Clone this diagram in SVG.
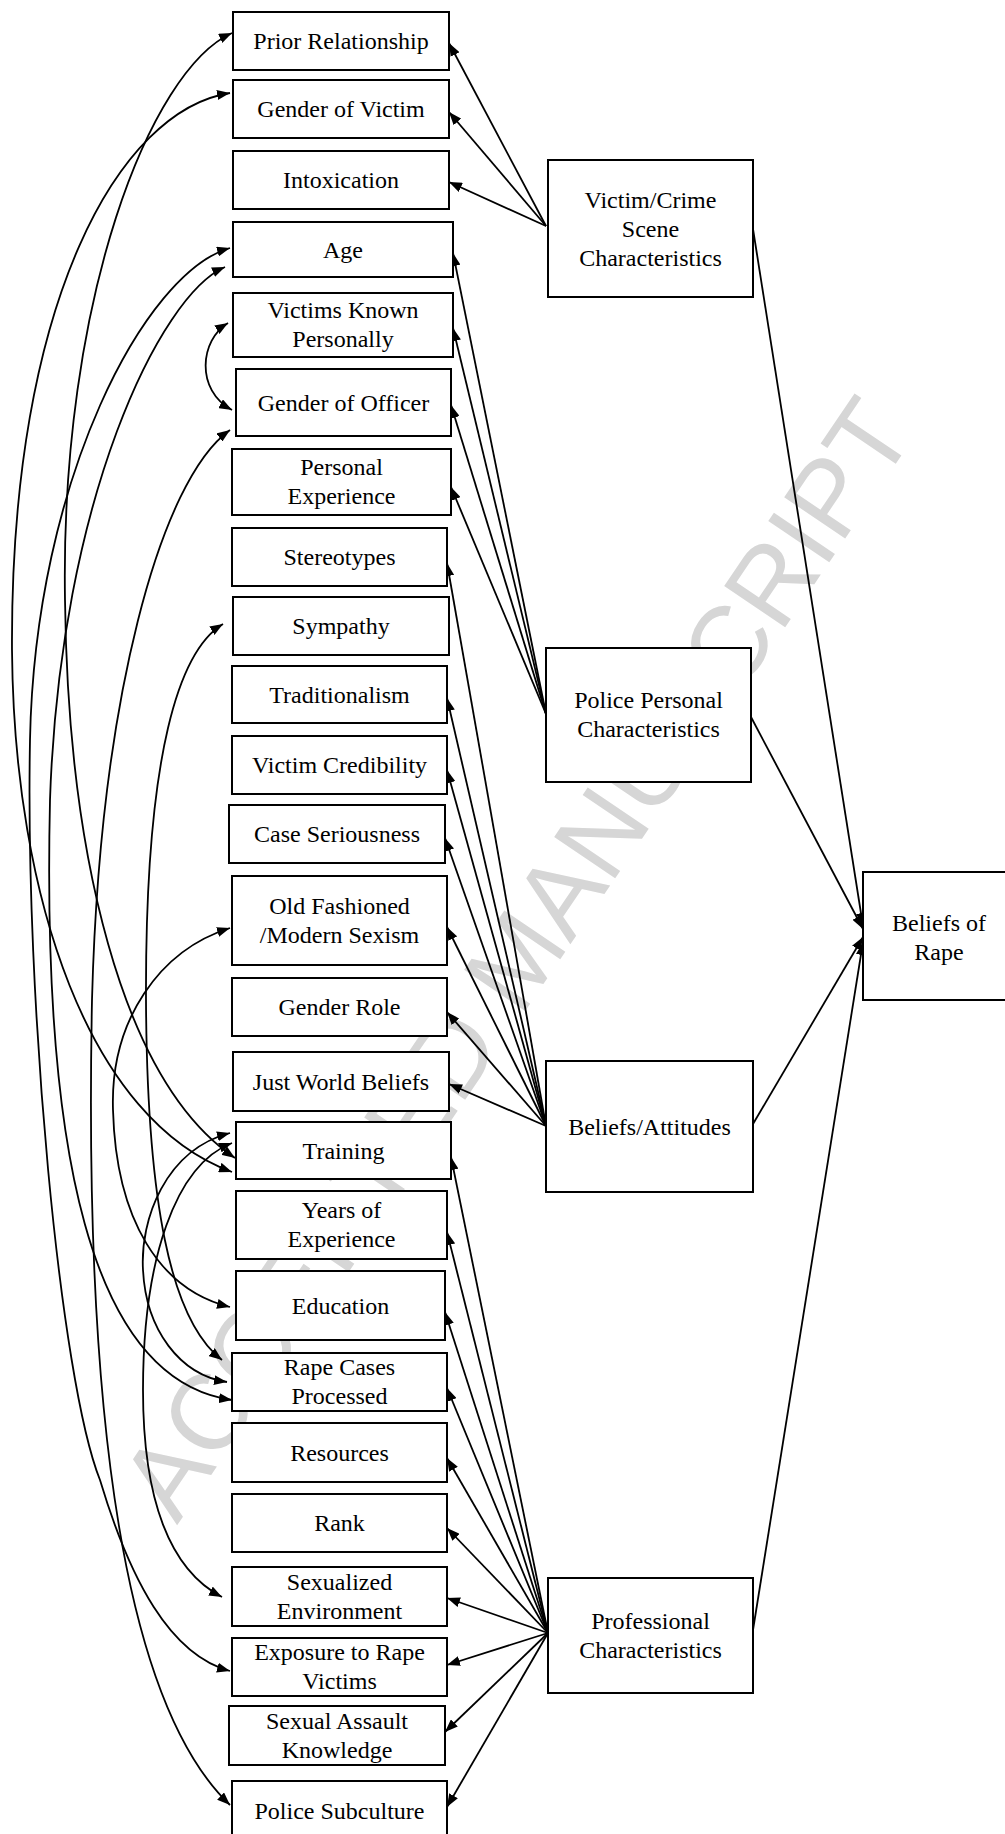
<svg xmlns="http://www.w3.org/2000/svg" width="1005" height="1834" viewBox="0 0 1005 1834">
<style>
.box{fill:#fff;stroke:#000;stroke-width:2}
.lbl{font-family:"Liberation Serif","Times New Roman",serif;font-size:24px;text-anchor:middle;fill:#000}
.edge{fill:none;stroke:#000;stroke-width:1.8;marker-end:url(#ah)}
.cor{fill:none;stroke:#000;stroke-width:1.8;marker-start:url(#ah);marker-end:url(#ah)}
.wm{font-family:"Liberation Sans",Arial,sans-serif;font-size:107px;text-anchor:middle;fill:#d6d6d6}
</style>
<defs>
<marker id="ah" viewBox="0 0 13 10" refX="13" refY="5" markerWidth="13" markerHeight="10" markerUnits="userSpaceOnUse" orient="auto-start-reverse"><path d="M0,0 L13,5 L0,10 z" fill="#000"/></marker>
</defs>
<rect width="1005" height="1834" fill="#fff"/>
<text class="wm" transform="translate(547,979) rotate(-55.9)">ACCEPTED MANUSCRIPT</text>
<g id="connectors">
<path class="edge" d="M546,226 L449,43"/>
<path class="edge" d="M546,226 L449,112"/>
<path class="edge" d="M546,226 L449,182"/>
<path class="edge" d="M546,714 L453,253"/>
<path class="edge" d="M546,714 L453,328"/>
<path class="edge" d="M546,714 L451,405"/>
<path class="edge" d="M546,714 L451,487"/>
<path class="edge" d="M546,1126 L447,563"/>
<path class="edge" d="M546,1126 L447,698"/>
<path class="edge" d="M546,1126 L447,770"/>
<path class="edge" d="M546,1126 L445,838"/>
<path class="edge" d="M546,1126 L447,927"/>
<path class="edge" d="M546,1126 L447,1012"/>
<path class="edge" d="M546,1126 L449,1084"/>
<path class="edge" d="M548,1633 L451,1157"/>
<path class="edge" d="M548,1633 L447,1232"/>
<path class="edge" d="M548,1633 L445,1312"/>
<path class="edge" d="M548,1633 L447,1388"/>
<path class="edge" d="M548,1633 L447,1458"/>
<path class="edge" d="M548,1633 L447,1528"/>
<path class="edge" d="M548,1633 L447,1598"/>
<path class="edge" d="M548,1633 L447,1665"/>
<path class="edge" d="M548,1633 L445,1732"/>
<path class="edge" d="M548,1633 L447,1807"/>
<path class="edge" d="M753,229 L863,926"/>
<path class="edge" d="M751,717 L863,929"/>
<path class="edge" d="M753,1124 L863,937"/>
<path class="edge" d="M753,1630 L863,942"/>
<path class="cor" d="M232,33 C150,70 60,300 65,600 C68,850 120,1080 235,1158"/>
<path class="cor" d="M230,93 C120,110 10,300 12,650 C14,900 90,1120 232,1172"/>
<path class="cor" d="M230,248 C145,272 35,480 30,740 C25,1000 60,1380 100,1480 C130,1580 170,1655 230,1671"/>
<path class="cor" d="M225,267 C160,295 60,500 50,800 C42,1150 90,1380 232,1400"/>
<path class="cor" d="M228,323 C200,340 195,390 232,410"/>
<path class="cor" d="M230,430 C160,480 100,700 92,1000 C84,1400 120,1700 230,1805"/>
<path class="cor" d="M223,624 C180,650 145,750 146,1000 C147,1200 170,1320 222,1360"/>
<path class="cor" d="M230,928 C160,950 110,1020 113,1110 C116,1220 160,1290 230,1307"/>
<path class="cor" d="M230,1133 C165,1150 140,1220 143,1270 C146,1330 180,1375 227,1382"/>
<path class="cor" d="M232,1143 C175,1165 143,1260 143,1390 C143,1500 170,1570 222,1597"/>
</g>
<g id="n-prior"><rect class="box" x="233" y="12" width="216" height="58"/><text class="lbl" x="341" y="49">Prior Relationship</text></g>
<g id="n-gender-victim"><rect class="box" x="233" y="80" width="216" height="58"/><text class="lbl" x="341" y="117">Gender of Victim</text></g>
<g id="n-intox"><rect class="box" x="233" y="151" width="216" height="58"/><text class="lbl" x="341" y="188">Intoxication</text></g>
<g id="n-age"><rect class="box" x="233" y="222" width="220" height="55"/><text class="lbl" x="343" y="257.5">Age</text></g>
<g id="n-vkp"><rect class="box" x="233" y="293" width="220" height="64"/><text class="lbl" x="343" y="318">Victims Known</text><text class="lbl" x="343" y="347">Personally</text></g>
<g id="n-gender-officer"><rect class="box" x="236" y="369" width="215" height="67"/><text class="lbl" x="343.5" y="410.5">Gender of Officer</text></g>
<g id="n-personal-exp"><rect class="box" x="232" y="449" width="219" height="66"/><text class="lbl" x="341.5" y="475">Personal</text><text class="lbl" x="341.5" y="504">Experience</text></g>
<g id="n-stereotypes"><rect class="box" x="232" y="528" width="215" height="58"/><text class="lbl" x="339.5" y="565">Stereotypes</text></g>
<g id="n-sympathy"><rect class="box" x="233" y="597" width="216" height="58"/><text class="lbl" x="341" y="634">Sympathy</text></g>
<g id="n-traditionalism"><rect class="box" x="232" y="666" width="215" height="57"/><text class="lbl" x="339.5" y="702.5">Traditionalism</text></g>
<g id="n-credibility"><rect class="box" x="232" y="736" width="215" height="58"/><text class="lbl" x="339.5" y="773">Victim Credibility</text></g>
<g id="n-seriousness"><rect class="box" x="229" y="805" width="216" height="58"/><text class="lbl" x="337" y="842">Case Seriousness</text></g>
<g id="n-sexism"><rect class="box" x="232" y="876" width="215" height="89"/><text class="lbl" x="339.5" y="913.5">Old Fashioned</text><text class="lbl" x="339.5" y="942.5">/Modern  Sexism</text></g>
<g id="n-gender-role"><rect class="box" x="232" y="978" width="215" height="58"/><text class="lbl" x="339.5" y="1015">Gender Role</text></g>
<g id="n-just-world"><rect class="box" x="233" y="1052" width="216" height="59"/><text class="lbl" x="341" y="1089.5">Just World Beliefs</text></g>
<g id="n-training"><rect class="box" x="236" y="1122" width="215" height="57"/><text class="lbl" x="343.5" y="1158.5">Training</text></g>
<g id="n-years"><rect class="box" x="236" y="1191" width="211" height="68"/><text class="lbl" x="341.5" y="1218">Years of</text><text class="lbl" x="341.5" y="1247">Experience</text></g>
<g id="n-education"><rect class="box" x="236" y="1271" width="209" height="69"/><text class="lbl" x="340.5" y="1313.5">Education</text></g>
<g id="n-rape-cases"><rect class="box" x="232" y="1353" width="215" height="58"/><text class="lbl" x="339.5" y="1375">Rape Cases</text><text class="lbl" x="339.5" y="1404">Processed</text></g>
<g id="n-resources"><rect class="box" x="232" y="1423" width="215" height="59"/><text class="lbl" x="339.5" y="1460.5">Resources</text></g>
<g id="n-rank"><rect class="box" x="232" y="1494" width="215" height="58"/><text class="lbl" x="339.5" y="1531">Rank</text></g>
<g id="n-sexualized"><rect class="box" x="232" y="1567" width="215" height="59"/><text class="lbl" x="339.5" y="1589.5">Sexualized</text><text class="lbl" x="339.5" y="1618.5">Environment</text></g>
<g id="n-exposure"><rect class="box" x="232" y="1638" width="215" height="58"/><text class="lbl" x="339.5" y="1660">Exposure to Rape</text><text class="lbl" x="339.5" y="1689">Victims</text></g>
<g id="n-sak"><rect class="box" x="229" y="1706" width="216" height="59"/><text class="lbl" x="337" y="1728.5">Sexual Assault</text><text class="lbl" x="337" y="1757.5">Knowledge</text></g>
<g id="n-subculture"><rect class="box" x="232" y="1781" width="215" height="60"/><text class="lbl" x="339.5" y="1819">Police Subculture</text></g>
<g id="n-victim-crime"><rect class="box" x="548" y="160" width="205" height="137"/><text class="lbl" x="650.5" y="207.5">Victim/Crime</text><text class="lbl" x="650.5" y="236.5">Scene</text><text class="lbl" x="650.5" y="265.5">Characteristics</text></g>
<g id="n-police-personal"><rect class="box" x="546" y="648" width="205" height="134"/><text class="lbl" x="648.5" y="708">Police Personal</text><text class="lbl" x="648.5" y="737">Characteristics</text></g>
<g id="n-beliefs-attitudes"><rect class="box" x="546" y="1061" width="207" height="131"/><text class="lbl" x="649.5" y="1135">Beliefs/Attitudes</text></g>
<g id="n-professional"><rect class="box" x="548" y="1578" width="205" height="115"/><text class="lbl" x="650.5" y="1628.5">Professional</text><text class="lbl" x="650.5" y="1657.5">Characteristics</text></g>
<g id="n-beliefs-rape"><rect class="box" x="863" y="872" width="150" height="128"/><text class="lbl" x="939" y="931">Beliefs of</text><text class="lbl" x="939" y="960">Rape</text></g>
</svg>
